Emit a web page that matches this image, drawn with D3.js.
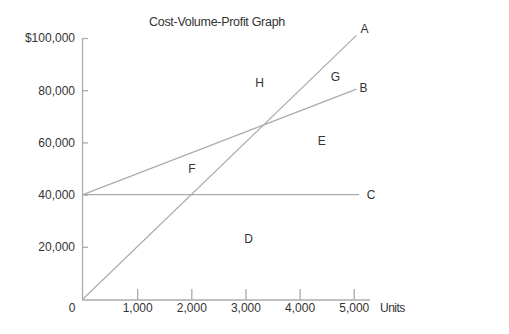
<!DOCTYPE html>
<html>
<head>
<meta charset="utf-8">
<script src="https://cdn.jsdelivr.net/npm/d3@7"></script>
<style>
  body { margin: 0; background: #fff; }
  text { font-family: "Liberation Sans", Arial, sans-serif; fill: #333; }
</style>
</head>
<body>
<svg id="chart" width="509" height="334"></svg>
<script>
// chart values
var xTicks = [1000, 2000, 3000, 4000, 5000];
var yTicks = [20000, 40000, 60000, 80000, 100000];
var revenueLine = [{u: 0, v: 0}, {u: 5050, v: 101000}];      // A
var totalCostLine = [{u: 0, v: 40000}, {u: 5050, v: 80400}]; // B
var fixedCostLine = [{u: 0, v: 40000}, {u: 5100, v: 40000}]; // C
var lineLabels = [
  {t: "A", u: 5200, v: 103500},
  {t: "B", u: 5180, v: 81000},
  {t: "C", u: 5320, v: 40000}
];
var areaLabels = [
  {t: "D", u: 3060, v: 23000},
  {t: "E", u: 4410, v: 60500},
  {t: "F", u: 2010, v: 50000},
  {t: "G", u: 4660, v: 85000},
  {t: "H", u: 3260, v: 83000}
];

var svg = d3.select("#chart");
var x = d3.scaleLinear().domain([0, 5300]).range([83, 370]);
var y = d3.scaleLinear().domain([0, 100000]).range([299, 38]);
var grey = "#ababab";

// title
svg.append("text")
  .attr("x", 217).attr("y", 26)
  .attr("text-anchor", "middle")
  .style("font-size", "12.5px")
  .style("letter-spacing", "-0.3px")
  .text("Cost-Volume-Profit Graph");

// x axis, ticks point up, labels below
var xAxis = svg.append("g")
  .attr("transform", "translate(0," + 300 + ")")
  .call(d3.axisBottom(x).tickValues(xTicks).tickSizeInner(-11).tickSizeOuter(0)
    .tickPadding(3).tickFormat(d3.format(",")));
xAxis.select(".domain").attr("d", "M82,0H370");

// y axis, ticks point right
var yAxis = svg.append("g")
  .attr("transform", "translate(82,0)")
  .call(d3.axisLeft(y).tickValues(yTicks).tickSizeInner(-6).tickSizeOuter(0)
    .tickPadding(7)
    .tickFormat(function(d) { return d == 100000 ? "$" + d3.format(",")(d) : d3.format(",")(d); }));

svg.selectAll(".domain, .tick line").attr("stroke", grey).attr("stroke-width", 1.3);
svg.selectAll(".tick text")
  .style("font-size", "12px")
  .attr("fill", "#333");

svg.append("text").attr("x", 72).attr("y", 312).attr("text-anchor", "middle")
  .style("font-size", "12px").text("0");
svg.append("text").attr("x", 380).attr("y", 312)
  .style("font-size", "12px").style("letter-spacing", "-0.5px").text("Units");

// lines
var line = d3.line().x(function(d) { return x(d.u); }).y(function(d) { return y(d.v); });
[fixedCostLine, totalCostLine, revenueLine].forEach(function(data) {
  svg.append("path")
    .attr("d", line(data))
    .attr("fill", "none")
    .attr("stroke", grey)
    .attr("stroke-width", 1.2);
});

// letters
lineLabels.concat(areaLabels).forEach(function(d) {
  svg.append("text")
    .attr("x", x(d.u)).attr("y", y(d.v))
    .attr("dy", "0.35em")
    .attr("text-anchor", "middle")
    .style("font-size", "12px")
    .text(d.t);
});
</script>
</body>
</html>
